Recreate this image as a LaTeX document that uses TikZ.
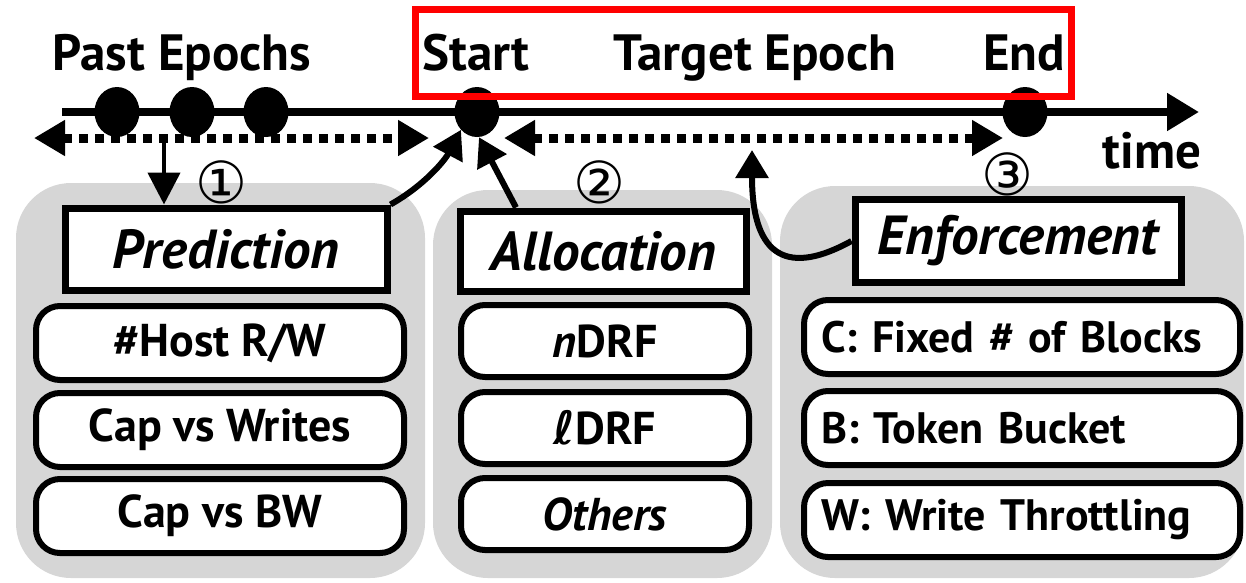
\documentclass[tikz,border=0pt]{standalone}
\usepackage{fontspec}
\setmainfont{PT Sans}
\newfontfamily\circfont{DejaVu Sans}
\usetikzlibrary{positioning, arrows.meta, shapes.geometric}
\definecolor{panelgray}{RGB}{214,214,214}
\tikzset{
  panel/.style={fill=panelgray, rounded corners=55pt},
  dot/.style={ellipse, fill=black, minimum width=45pt, minimum height=50pt, inner sep=0pt},
  eplabel/.style={font=\fontsize{51}{51}\selectfont\bfseries, inner sep=0pt},
  circnum/.style={font=\fontsize{58}{58}\selectfont\circfont, inner sep=0pt},
  headbox/.style={draw, line width=7pt, fill=white, font=\fontsize{55}{55}\selectfont\bfseries\itshape},
  itembox/.style={draw, line width=6pt, fill=white, rounded corners=24pt, font=\fontsize{46}{46}\selectfont\bfseries},
  timeline/.style={line width=8pt, -{Triangle[length=32pt,width=36pt]}},
  window/.style={line width=9pt, dash pattern=on 9pt off 7pt,
    {Triangle[length=31pt,width=34pt]}-{Triangle[length=31pt,width=34pt]}},
  steparrow/.style={line width=6pt, -{Triangle[length=28pt,width=32pt]}},
  downarrow/.style={line width=4.5pt, -{Triangle[length=32pt,width=32pt]}},
}
\begin{document}
\begin{tikzpicture}[x=1pt, y=-1pt]
  \useasboundingbox (0,0) rectangle (1246,582);
  % Panels
  \fill[panel] (16,183) rectangle (425,578);
  \fill[panel] (433,190) rectangle (772,578);
  \fill[panel] (780,186) rectangle (1244,578);
  % Timeline
  \coordinate (t0) at (62,112);
  \coordinate (t1) at (1199,112);
  \draw[timeline] (t0) -- (t1);
  \node[eplabel, anchor=base] (timelab) at (1152,168) {time};
  % Epochs
  \foreach \n/\x in {p1/117, p2/192, p3/266}
    \node[dot] (\n) at (\x,112) {};
  \node[dot] (start) at (477,112) {};
  \node[dot] (end) at (1025,112) {};
  \node[eplabel, anchor=base] (past) at (182,70) {Past Epochs};
  \node[eplabel, anchor=base] (startlab) at (476,70) {Start};
  \node[eplabel, anchor=base] (target) at (755,70) {Target Epoch};
  \node[eplabel, anchor=base] (endlab) at (1024,70) {End};
  \draw[red, line width=7pt] (415,9) rectangle (1071,96);
  % Windows
  \coordinate (wl) at (34,138);
  \coordinate (wr) at (429,138);
  \draw[window] (wl) -- (wr);
  \coordinate (el) at (504,138);
  \coordinate (er) at (1003,138);
  \draw[window] (el) -- (er);
  % Step numbers
  \node[circnum] (n1) at (221,182) {①};
  \node[circnum] (n2) at (599,182) {②};
  \node[circnum] (n3) at (1007,174) {③};
  % Stages
  \node[headbox, minimum width=322pt, minimum height=82pt] (pred) at (226,249) {Prediction};
  \node[headbox, minimum width=286pt, minimum height=80pt] (alloc) at (603,251) {Allocation};
  \node[headbox, minimum width=326pt, minimum height=83pt] (enf) at (1018,241) {Enforcement};
  % Options
  \foreach \n/\y/\t in {host/343/{\#Host R\kern-1pt/W}, capw/430/Cap vs Writes, capb/516/Cap vs BW}
    \node[itembox, minimum width=368pt, minimum height=74pt] (\n) at (220,\y) {\t};
  \foreach \n/\y/\t in {ndrf/341/\textit{n}DRF, ldrf/428/{\circfont ℓ}DRF, others/514/\textit{Others}}
    \node[itembox, minimum width=288pt, minimum height=72pt] (\n) at (605,\y) {\t};
  \foreach \n/\y/\t in {fixed/337/C: Fixed \# of Blocks, bucket/428/B: Token Bucket, throttle/520/W: Write Throttling}
    \node[itembox, font=\fontsize{44}{44}\selectfont\bfseries, text width=402pt, inner xsep=17pt,
      align=left, minimum height=74pt] (\n) at (1022,\y) {\t};
  % Arrows
  \coordinate (fork) at (164,138);
  \draw[downarrow] (fork) -- (fork |- pred.north);
  \draw[steparrow] (pred.north east) .. controls (425,185) and (445,160) .. (start.south west);
  \draw[steparrow] ([xshift=-87pt]alloc.north) -- ([xshift=2pt]start.south);
  \coordinate (mid) at (752,150);
  \draw[steparrow] (enf.west) .. controls (790,275) and (752,260) .. (mid);
\end{tikzpicture}
\end{document}
